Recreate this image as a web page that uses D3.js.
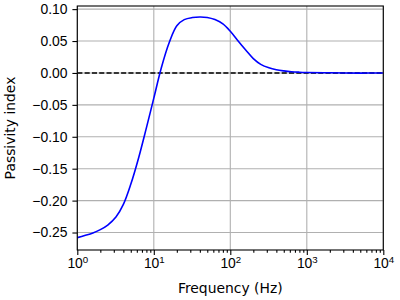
<!DOCTYPE html>
<html>
<head>
<meta charset="utf-8">
<script src="https://cdn.jsdelivr.net/npm/d3@7"></script>
<style>
  body { margin: 0; background: #fff; }
  svg { display: block; font-family: "DejaVu Sans", sans-serif; }
</style>
</head>
<body>
<script>
//curve (third-octave frequencies)
var freqs = [1, 1.25, 1.6, 2, 2.5, 3.2, 4, 5, 6.3, 8, 10, 12.5, 16, 20, 25, 32, 40, 50, 63, 80, 100, 125, 160, 200, 250, 320, 400, 500, 630, 800, 1000, 2000, 5000, 10000];
var passivity = [-0.258, -0.2548, -0.2508, -0.2455, -0.2383, -0.2258, -0.2060, -0.1745, -0.1340, -0.0860, -0.0395, 0.0075, 0.0485, 0.0740, 0.0835, 0.0868, 0.0877, 0.0870, 0.0836, 0.0768, 0.0653, 0.0508, 0.0355, 0.0225, 0.0135, 0.0080, 0.0050, 0.0032, 0.0019, 0.0012, 0.0008, 0.0002, -0.0002, 0.0];

var xTicks = [1, 10, 100, 1000, 10000];
var yTicks = [0.10, 0.05, 0.00, -0.05, -0.10, -0.15, -0.20, -0.25];
var xDomain = [1, 10000];
var yDomain = [-0.2774, 0.1049];

(function(){

var width = 400, height = 300;
var pLeft = 77.3, pRight = 383.3, pTop = 6, pBottom = 250;

var svg = d3.select("body").append("svg")
    .attr("width", width)
    .attr("height", height);

var x = d3.scaleLog().domain(xDomain).range([pLeft, pRight]);
var y = d3.scaleLinear().domain(yDomain).range([pBottom, pTop]);

//grid lines
svg.selectAll(".gx").data(xTicks).enter().append("line")
    .attr("x1", d => x(d)).attr("x2", d => x(d))
    .attr("y1", pTop).attr("y2", pBottom)
    .attr("stroke", "#b0b0b0").attr("stroke-width", 1.1);
svg.selectAll(".gy").data(yTicks).enter().append("line")
    .attr("x1", pLeft).attr("x2", pRight)
    .attr("y1", d => y(d)).attr("y2", d => y(d))
    .attr("stroke", "#b0b0b0").attr("stroke-width", 1.1);

svg.append("clipPath").attr("id", "clip").append("rect")
    .attr("x", pLeft).attr("y", pTop).attr("width", pRight - pLeft).attr("height", pBottom - pTop);

var plot = svg.append("g").attr("clip-path", "url(#clip)");

//zero reference line
plot.append("line")
    .attr("x1", x(xDomain[0])).attr("x2", x(xDomain[1]))
    .attr("y1", y(0)).attr("y2", y(0))
    .attr("stroke", "#000").attr("stroke-width", 1.39)
    .attr("stroke-dasharray", "5.1,2.2");

var line = d3.line()
    .x(d => x(d[0]))
    .y(d => y(d[1]))
    .curve(d3.curveCatmullRom.alpha(0.5));

plot.append("path")
    .datum(d3.zip(freqs, passivity))
    .attr("fill", "none")
    .attr("stroke", "#0000ff")
    .attr("stroke-width", 1.6)
    .attr("d", line);

//axes
var minor = [];
for (var e = 0; e < 4; e++) {
    for (var m = 2; m < 10; m++) minor.push(m * Math.pow(10, e));
}

var xAxis = svg.append("g")
    .attr("transform", "translate(0," + pBottom + ")")
    .call(d3.axisBottom(x).tickValues(minor).tickSize(2.8).tickFormat(""));
xAxis.select(".domain").remove();

var xMajor = svg.append("g")
    .attr("transform", "translate(0," + pBottom + ")")
    .call(d3.axisBottom(x).tickValues(xTicks).tickSize(4.9).tickPadding(4.9).tickFormat(""));
xMajor.select(".domain").remove();
xMajor.selectAll(".tick").each(function(d){
    var t = d3.select(this).append("text")
        .attr("fill", "#000")
        .attr("y", 18.3)
        .attr("text-anchor", "middle")
        .style("font-size", "13.9px");
    t.append("tspan").text("10");
    t.append("tspan").attr("dy", -5.5).style("font-size", "9.7px").text(Math.round(Math.log10(d)));
});

var yAxis = svg.append("g")
    .attr("transform", "translate(" + pLeft + ",0)")
    .call(d3.axisLeft(y).tickValues(yTicks).tickSize(4.9).tickPadding(4.9)
        .tickFormat(d => d3.format(".2f")(d).replace("-", "\u2212")));
yAxis.select(".domain").remove();
yAxis.selectAll("text").style("font-size", "13.9px").attr("fill", "#000");

svg.selectAll(".tick line").attr("stroke", "#000").attr("stroke-width", 1.1);

//frame
svg.append("rect")
    .attr("x", pLeft).attr("y", pTop)
    .attr("width", pRight - pLeft).attr("height", pBottom - pTop)
    .attr("fill", "none").attr("stroke", "#000").attr("stroke-width", 1.1);

//labels
svg.append("text")
    .attr("x", (pLeft + pRight) / 2).attr("y", 292.7)
    .attr("text-anchor", "middle")
    .style("font-size", "13.9px")
    .text("Frequency (Hz)");

svg.append("text")
    .attr("transform", "translate(15," + (pTop + pBottom) / 2 + ") rotate(-90)")
    .attr("text-anchor", "middle")
    .style("font-size", "13.9px")
    .text("Passivity index");

})();
</script>
</body>
</html>
